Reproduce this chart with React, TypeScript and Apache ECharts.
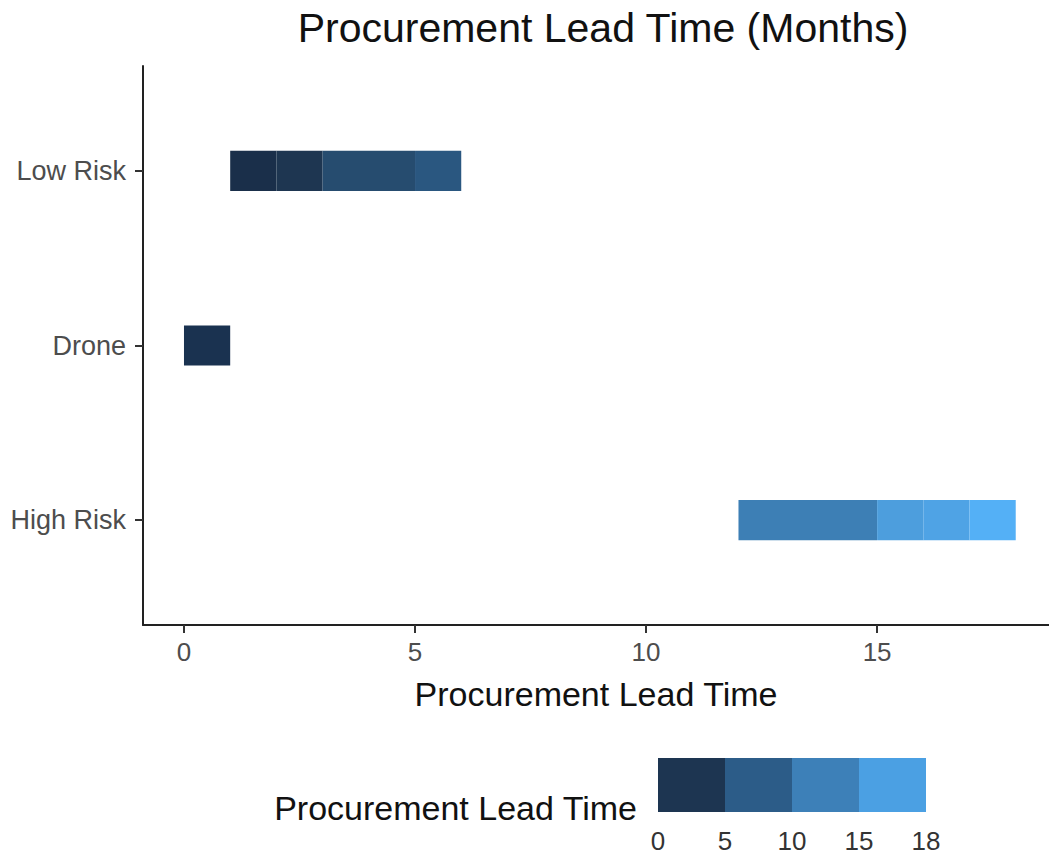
import React, { useEffect, useRef } from "react";
import * as echarts from "echarts";

// Categories, bottom to top
const categories = ["High Risk", "Drone", "Low Risk"];

// Tile segments
const segStart = [1, 2, 3, 5, 0, 12, 15, 16, 17];
const segEnd = [2, 3, 5, 6, 1, 15, 16, 17, 18];
const segCategory = ["Low Risk", "Low Risk", "Low Risk", "Low Risk", "Drone", "High Risk", "High Risk", "High Risk", "High Risk"];
const segColor = ["#1a2f4a", "#1e3651", "#264c6f", "#2a5780", "#1a3250", "#3d7fb5", "#4d9edd", "#4fa3e5", "#54b0f6"];

// X tick labels
const xTicks = [0, 5, 10, 15];

// Legend bins
const legendBreaks = ["0", "5", "10", "15", "18"];
const legendColors = ["#1d3551", "#2c5c88", "#3d80b8", "#4ba0e3"];

const FONT = "Liberation Sans, Arial, Helvetica, sans-serif";

export default function App() {
  const ref = useRef<HTMLDivElement>(null);

  useEffect(() => {
    if (!ref.current) return;
    const chart = echarts.init(ref.current, null, { renderer: "svg" });

    const data = segStart.map((s, i) => [s, segEnd[i], categories.indexOf(segCategory[i]) + 1, segColor[i]]);

    const legendX = 658;
    const legendY = 758;
    const binW = 67;
    const binH = 54;
    const legendGraphics: any[] = [];
    legendColors.forEach((c, i) => {
      legendGraphics.push({
        type: "rect",
        shape: { x: legendX + i * binW, y: legendY, width: binW, height: binH },
        style: { fill: c },
      });
    });
    legendBreaks.forEach((b, i) => {
      legendGraphics.push({
        type: "text",
        x: legendX + i * binW,
        y: 841,
        style: { text: b, fill: "#333333", font: `26px ${FONT}`, align: "center", verticalAlign: "middle" },
      });
    });
    legendGraphics.push({
      type: "text",
      x: 637,
      y: 808,
      style: { text: "Procurement Lead Time", fill: "#111111", font: `34px ${FONT}`, align: "right", verticalAlign: "middle" },
    });

    chart.setOption({
      animation: false,
      backgroundColor: "#ffffff",
      title: {
        text: "Procurement Lead Time (Months)",
        left: 598,
        top: 2,
        textAlign: "center",
        textStyle: { fontFamily: FONT, fontSize: 41, fontWeight: "normal", color: "#111111" },
      },
      grid: { left: 143, right: 0, top: 66, bottom: 233, containLabel: false },
      xAxis: {
        type: "value",
        min: -0.887,
        max: 18.72,
        name: "Procurement Lead Time",
        nameLocation: "middle",
        nameGap: 52,
        nameTextStyle: { fontFamily: FONT, fontSize: 34, color: "#111111" },
        axisLine: { show: true, onZero: false, lineStyle: { color: "#222222", width: 2 } },
        axisTick: { show: true, length: 8, lineStyle: { color: "#333333", width: 2 }, customValues: xTicks },
        axisLabel: { customValues: xTicks, fontFamily: FONT, fontSize: 26, color: "#4d4d4d", margin: 14 },
        splitLine: { show: false },
      },
      yAxis: {
        type: "value",
        min: 0.4,
        max: 3.6,
        axisLine: { show: true, onZero: false, lineStyle: { color: "#222222", width: 2 } },
        axisTick: { show: true, length: 8, lineStyle: { color: "#333333", width: 2 }, customValues: [1, 2, 3] },
        axisLabel: {
          customValues: [1, 2, 3],
          formatter: (v: number) => categories[Math.round(v) - 1] ?? "",
          fontFamily: FONT,
          fontSize: 27,
          color: "#4d4d4d",
          margin: 17,
        },
        splitLine: { show: false },
      },
      series: [
        {
          type: "custom",
          renderItem: (params: any, api: any) => {
            const s = api.value(0);
            const e = api.value(1);
            const y = api.value(2);
            const p0 = api.coord([s, y]);
            const p1 = api.coord([e, y]);
            const h = api.size([0, 0.23])[1];
            return {
              type: "rect",
              shape: { x: p0[0], y: p0[1] - h / 2, width: p1[0] - p0[0], height: h },
              style: { fill: data[params.dataIndex][3] as string },
            };
          },
          encode: { x: [0, 1], y: 2 },
          data: data,
        },
      ],
      graphic: legendGraphics,
    });

    return () => chart.dispose();
  }, []);

  return <div ref={ref} style={{ width: 1049, height: 858, position: "absolute", left: 0, top: 0 }} />;
}
